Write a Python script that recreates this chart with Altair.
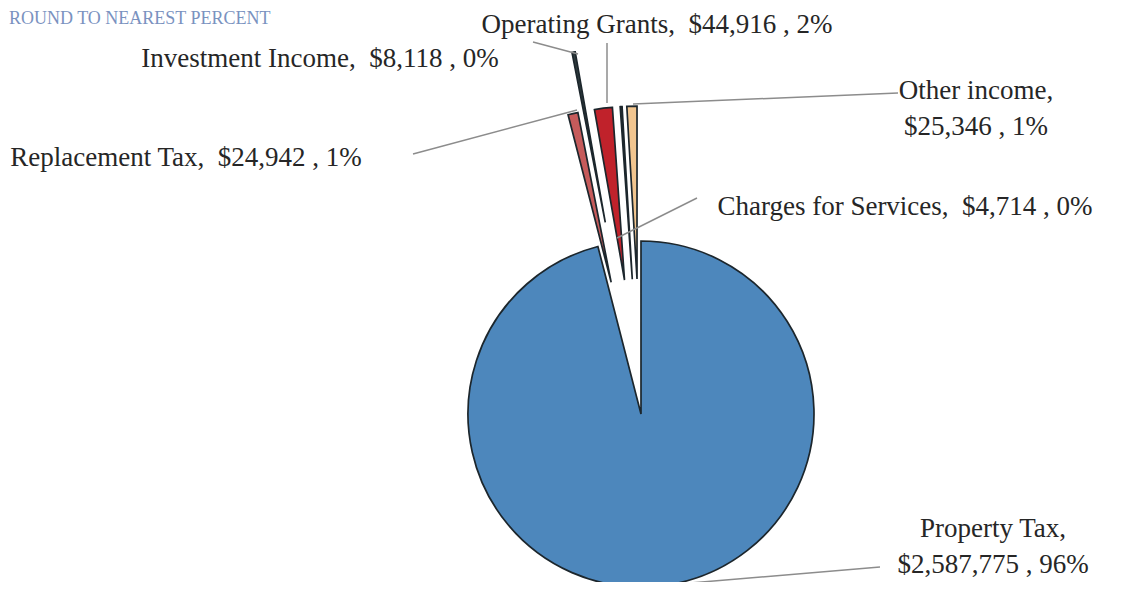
import math
import altair as alt
import pandas as pd

# ---------------- data ----------------
categories = ["Property Tax", "Replacement Tax", "Investment Income",
              "Operating Grants", "Charges for Services", "Other income"]
values = [2587775, 24942, 8118, 44916, 4714, 25346]
title_text = "ROUND TO NEAREST PERCENT"

# ---------------- style / layout ----------------
colors = ["#4d87bc", "#c65b5b", "#2e3a3c", "#c0222b", "#3a3a3a", "#f1c58f"]
explode_px = [0, 135, 195, 135, 135, 135]
CX, CY, R = 633, 406, 173
FONT = "Liberation Serif"

# label anchor (centre x, first baseline y) in svg coordinates
label_x = [985, 178, 312, 649, 897, 968]
label_y = [529, 158, 59, 25, 207, 91]
two_line = {"Property Tax", "Other income"}

# leader lines (x, y, x2, y2)
leaders = [
    (682, 575, 872, 559),   # Property Tax
    (405, 146, 569, 102),   # Replacement Tax
    (525, 34, 570, 46),     # Investment Income
    (599, 35, 599, 95),     # Operating Grants
    (609, 230, 689, 190),   # Charges for Services
    (625, 96, 890, 85),     # Other income
]

total = sum(values)
pcts = [round(v / total * 100) for v in values]
NB = "\u00a0"


def make_label(c, v, p):
    sep = ",\n" if c in two_line else f", {NB}"
    return f"{c}{sep}${v:,}{NB}, {p}%"


df = pd.DataFrame({
    "category": categories,
    "value": values,
    "order": list(range(len(categories))),
    "explode": explode_px,
})

arcs = (
    alt.Chart(df)
    .transform_window(cum="sum(value)", sort=[alt.SortField("order")], frame=[None, 0])
    .transform_calculate(
        start="datum.cum - datum.value",
        mid=f"2*PI*(datum.cum - datum.value/2)/{total}",
    )
    .transform_calculate(
        cx=f"{CX} + datum.explode*sin(datum.mid)",
        cy=f"{CY} - datum.explode*cos(datum.mid)",
    )
    .mark_arc(radius=R, stroke="#1c262c", strokeWidth=1.7)
    .encode(
        theta=alt.Theta("start:Q", stack=None,
                        scale=alt.Scale(domain=[0, total], range=[0, 2 * math.pi])),
        theta2="cum:Q",
        x=alt.X("cx:Q", scale=None, axis=None),
        y=alt.Y("cy:Q", scale=None, axis=None),
        color=alt.Color("category:N", scale=alt.Scale(domain=categories, range=colors),
                        legend=None),
    )
)

lead_df = pd.DataFrame(leaders, columns=["x", "y", "x2", "y2"])
rules = (
    alt.Chart(lead_df)
    .mark_rule(color="#8c8c8c", strokeWidth=1.5)
    .encode(
        x=alt.X("x:Q", scale=None, axis=None),
        y=alt.Y("y:Q", scale=None, axis=None),
        x2="x2:Q",
        y2="y2:Q",
    )
)

lab_df = pd.DataFrame({
    "label": [make_label(c, v, p) for c, v, p in zip(categories, values, pcts)],
    "lx": label_x,
    "ly": label_y,
})
labels = (
    alt.Chart(lab_df)
    .mark_text(font=FONT, fontSize=27, align="center", baseline="alphabetic",
               lineBreak="\n", lineHeight=36, color="#262626")
    .encode(
        x=alt.X("lx:Q", scale=None, axis=None),
        y=alt.Y("ly:Q", scale=None, axis=None),
        text="label:N",
    )
)

title = (
    alt.Chart(pd.DataFrame({"t": [title_text]}))
    .mark_text(font=FONT, fontSize=18, align="left", baseline="alphabetic",
               color="#7a92bf")
    .encode(x=alt.value(1), y=alt.value(16), text="t:N")
)

chart = (
    alt.layer(arcs, rules, labels, title)
    .properties(width=1111, height=574, padding=0, autosize="none")
    .configure_view(stroke=None)
)

chart.save("out.html", embed_options={"renderer": "svg", "actions": False})
